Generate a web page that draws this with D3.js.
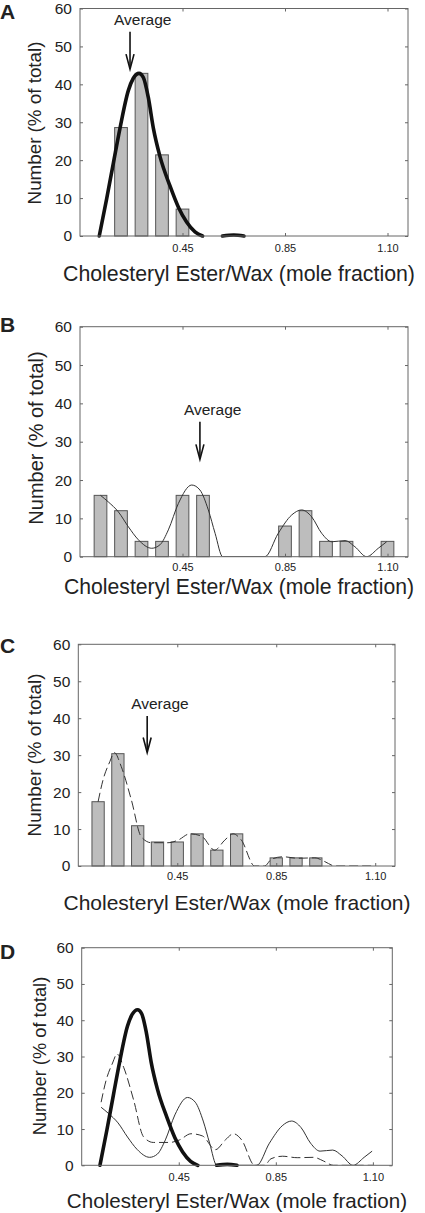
<!DOCTYPE html>
<html>
<head>
<meta charset="utf-8">
<script src="https://cdn.jsdelivr.net/npm/d3@7"></script>
<style>
  html, body { margin: 0; padding: 0; background: #fff; }
  svg { display: block; }
  text { font-family: Arial, "Liberation Sans", Helvetica, sans-serif; fill: #222; }
</style>
</head>
<body>
<svg id="chart" width="425" height="1213"></svg>
<script>
// ---------------- data ----------------
const panelLetters = ["A", "B", "C", "D"];
const xTitle = "Cholesteryl Ester/Wax (mole fraction)";
const yTitle = "Number (% of total)";
const averageLabel = "Average";

const yTickValues = [0, 10, 20, 30, 40, 50, 60];
const xTickBins = [4, 9, 14];
const xTickLabels = ["0.45", "0.85", "1.10"];

// histogram bars: bin index and % of total
const barBinsA = [1, 2, 3, 4];
const barValuesA = [28.6, 42.9, 21.4, 7.1];
const barBinsB = [0, 1, 2, 3, 4, 5, 9, 10, 11, 12, 14];
const barValuesB = [16, 12, 4, 4, 16, 16, 8, 12, 4, 4, 4];
const barBinsC = [0, 1, 2, 3, 4, 5, 6, 7, 9, 10, 11];
const barValuesC = [17.4, 30.4, 10.9, 6.5, 6.5, 8.7, 4.3, 8.7, 2.2, 2.2, 2.2];

// fitted curves (bin position, %)
const curveBinsA = [-0.06, 0.30, 0.63, 0.95, 1.36, 1.60, 1.88, 2.09, 2.33, 2.58, 2.90, 3.39, 3.80, 4.20, 4.61, 4.98];
const curveValuesA = [0, 9.8, 19.3, 28.4, 38.4, 41.6, 42.9, 41.8, 36.6, 28.4, 21.0, 13.2, 7.6, 3.7, 1.1, 0];
const curveTailBinsA = [5.95, 6.5, 7.0];
const curveTailValuesA = [0, 0.25, 0];

const curveBinsB = [0, 0.38, 0.87, 1.36, 1.85, 2.50, 2.90, 3.31, 3.80, 4.45, 4.85, 5.26, 5.59, 5.96, 8.02, 8.67, 9.33, 9.81, 10.30, 10.79, 11.28, 11.93, 12.41, 12.98, 13.55, 13.96];
const curveValuesB = [16.0, 14.3, 11.7, 7.8, 4.4, 2.2, 3.1, 7.0, 13.9, 18.7, 17.4, 12.2, 6.1, 0, 0, 6.1, 10.9, 12.2, 10.4, 6.1, 3.9, 4.2, 2.6, 0, 2.2, 3.9];

const curveBinsC = [0, 0.25, 0.59, 0.82, 1.17, 1.68, 2.18, 2.69, 3.53, 4.04, 4.63, 5.22, 5.89, 6.40, 6.82, 7.24, 7.91, 8.42, 8.75, 9.34, 10.10, 10.95, 11.45, 11.96, 14.0];
const curveValuesC = [17.4, 23.3, 28.2, 30.7, 26.9, 17.9, 7.9, 6.3, 6.3, 7.0, 8.7, 8.1, 4.3, 7.0, 8.7, 7.0, 0, 0, 1.8, 2.5, 2.1, 2.2, 1.2, 0, 0];

// "Average" arrows: bin position, arrow top (%), arrow tip (%)
const averageBins = [1.44, 4.85, 2.48];
const averageTops = [53.9, 35.2, 40.6];
const averageTips = [44.0, 25.4, 30.7];

// ---------------- layout ----------------
const panels = [
  { left: 80, right: 408, top: 8.5, bottom: 236, letterY: 19, xTickPad: 8, xTitleY: 281, xTitleX: 239, xTitleSize: 21.3, yTitleX: 41, yTitleY: 123, yTitleSize: 18.8 },
  { left: 80, right: 408, top: 326.7, bottom: 556.7, letterY: 331.5, xTickPad: 7, xTitleY: 594, xTitleX: 239, xTitleSize: 21.2, yTitleX: 42.5, yTitleY: 438, yTitleSize: 20 },
  { left: 78.3, right: 395, top: 644.3, bottom: 866, letterY: 653.3, xTickPad: 6.5, xTitleY: 910, xTitleX: 237, xTitleSize: 21, yTitleX: 41, yTitleY: 755, yTitleSize: 18.8 },
  { left: 81.7, right: 392.3, top: 947.7, bottom: 1165.3, letterY: 959, xTickPad: 8, xTitleY: 1207.5, xTitleX: 237, xTitleSize: 20.6, yTitleX: 45.5, yTitleY: 1056, yTitleSize: 18.3 }
];

const svg = d3.select("#chart");
const zip = (xs, ys) => xs.map((x, i) => ({ bin: x, value: ys[i] }));

const barsByPanel = [zip(barBinsA, barValuesA), zip(barBinsB, barValuesB), zip(barBinsC, barValuesC), null];
const curveAData = zip(curveBinsA, curveValuesA);
const curveATail = zip(curveTailBinsA, curveTailValuesA);
const curveBData = zip(curveBinsB, curveValuesB);
const curveCData = zip(curveBinsC, curveValuesC);

const curvesByPanel = [
  [{ d: curveAData, style: "thick" }, { d: curveATail, style: "thick" }],
  [{ d: curveBData, style: "thin" }],
  [{ d: curveCData, style: "dashed" }],
  [{ d: curveBData, style: "thin" }, { d: curveCData, style: "dashed" }, { d: curveAData, style: "thick" }, { d: curveATail, style: "thick" }]
];

panels.forEach((p, pi) => {
  const x = d3.scaleLinear().domain([-1, 15]).range([p.left, p.right]);
  const y = d3.scaleLinear().domain([0, 60]).range([p.bottom, p.top]);
  const g = svg.append("g");
  const clipId = "clip" + pi;
  svg.append("clipPath").attr("id", clipId).append("rect")
    .attr("x", p.left).attr("y", p.top - 2).attr("width", p.right - p.left).attr("height", p.bottom - p.top + 2);

  // bars
  const bars = barsByPanel[pi];
  if (bars) {
    const step = x(1) - x(0);
    const bw = step * 0.62;
    g.selectAll("rect.bar").data(bars).enter().append("rect")
      .attr("class", "bar")
      .attr("x", d => x(d.bin) - bw / 2)
      .attr("y", d => y(d.value))
      .attr("width", bw)
      .attr("height", d => y(0) - y(d.value))
      .attr("fill", "#bdbdbd")
      .attr("stroke", "#555")
      .attr("stroke-width", 1);
  }

  // curves
  const line = d3.line().x(d => x(d.bin)).y(d => y(d.value)).curve(d3.curveMonotoneX);
  curvesByPanel[pi].forEach(c => {
    const path = g.append("path")
      .attr("d", line(c.d))
      .attr("fill", "none")
      .attr("clip-path", c.style === "thick" ? null : `url(#${clipId})`)
      .attr("stroke-linejoin", "round")
      .attr("stroke-linecap", c.style === "thick" ? "round" : "butt");
    if (c.style === "thick") path.attr("stroke", "#111").attr("stroke-width", 3.6);
    else if (c.style === "thin") path.attr("stroke", "#333").attr("stroke-width", 1);
    else path.attr("stroke", "#333").attr("stroke-width", 1).attr("stroke-dasharray", "9,4");
  });

  // frame
  g.append("rect")
    .attr("x", p.left).attr("y", p.top)
    .attr("width", p.right - p.left).attr("height", p.bottom - p.top)
    .attr("fill", "none").attr("stroke", "#666").attr("stroke-width", 1);

  // axes
  const yAxisL = d3.axisLeft(y).tickValues(yTickValues).tickSize(-3).tickPadding(8).tickFormat(d3.format("d"));
  const gy = g.append("g").attr("transform", `translate(${p.left},0)`).call(yAxisL);
  gy.select(".domain").remove();
  gy.selectAll("line").attr("stroke", "#666");
  gy.selectAll("text").attr("font-size", 15.5).attr("fill", "#222")
    .attr("font-family", "Arial, 'Liberation Sans', sans-serif");

  const yAxisR = d3.axisRight(y).tickValues(yTickValues).tickSize(-3).tickFormat("");
  const gyr = g.append("g").attr("transform", `translate(${p.right},0)`).call(yAxisR);
  gyr.select(".domain").remove();
  gyr.selectAll("line").attr("stroke", "#666");

  const xAxisB = d3.axisBottom(x).tickValues(xTickBins).tickSize(-3).tickPadding(p.xTickPad)
    .tickFormat((d, i) => xTickLabels[i]);
  const gx = g.append("g").attr("transform", `translate(0,${p.bottom})`).call(xAxisB);
  gx.select(".domain").remove();
  gx.selectAll("line").attr("stroke", "#666");
  gx.selectAll("text").attr("font-size", 11).attr("fill", "#333")
    .attr("font-family", "Arial, 'Liberation Sans', sans-serif");

  const xAxisT = d3.axisTop(x).tickValues(xTickBins).tickSize(-3).tickFormat("");
  const gxt = g.append("g").attr("transform", `translate(0,${p.top})`).call(xAxisT);
  gxt.select(".domain").remove();
  gxt.selectAll("line").attr("stroke", "#666");

  // titles
  g.append("text").attr("x", p.xTitleX).attr("y", p.xTitleY)
    .attr("text-anchor", "middle").attr("font-size", p.xTitleSize).text(xTitle);
  g.append("text")
    .attr("transform", `translate(${p.yTitleX},${p.yTitleY}) rotate(-90)`)
    .attr("text-anchor", "middle").attr("font-size", p.yTitleSize).text(yTitle);

  // panel letter
  g.append("text").attr("x", 0).attr("y", p.letterY)
    .attr("font-size", 21).attr("font-weight", "bold").attr("fill", "#000").text(panelLetters[pi]);

  // average arrow
  if (pi < 3) {
    const ax = x(averageBins[pi]);
    const yTop = y(averageTops[pi]);
    const yTip = y(averageTips[pi]);
    g.append("line").attr("x1", ax).attr("x2", ax).attr("y1", yTop).attr("y2", yTip - 1)
      .attr("stroke", "#111").attr("stroke-width", 1.6);
    g.append("path")
      .attr("d", `M${ax - 4},${yTip - 15} L${ax},${yTip} L${ax + 4},${yTip - 15}`)
      .attr("fill", "none").attr("stroke", "#111").attr("stroke-width", 1.6);
    g.append("text").attr("x", ax - 16).attr("y", yTop - 6.5)
      .attr("font-size", 15.5).text(averageLabel);
  }
});
</script>
</body>
</html>
